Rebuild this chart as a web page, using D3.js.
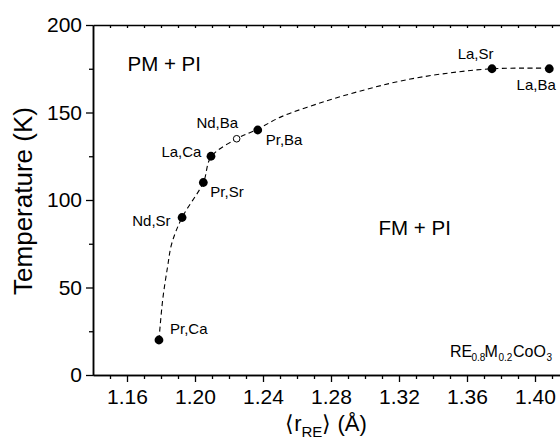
<!DOCTYPE html>
<html>
<head>
<meta charset="utf-8">
<script src="https://cdn.jsdelivr.net/npm/d3@7"></script>
<style>
  html, body { margin: 0; padding: 0; background: #fff; }
  svg { display: block; }
  text { font-family: Arial, "Liberation Sans", Helvetica, sans-serif; fill: #000; }
</style>
</head>
<body>
<svg id="chart" width="560" height="439"></svg>
<script>
// ---- data ----
const compounds = ["Pr,Ca", "Nd,Sr", "Pr,Sr", "La,Ca", "Nd,Ba", "Pr,Ba", "La,Sr", "La,Ba"];
const rRE      = [1.1788, 1.1924, 1.2049, 1.2094, 1.2245, 1.2369, 1.3747, 1.4084];
const Tc       = [20, 90, 110, 125, 135, 140, 175, 175];
const openMark = [false, false, false, false, true, false, false, false];

// dashed guide curve, read along the dashed line of the picture
const curveR = [1.1788, 1.1810, 1.1839, 1.1863, 1.1924, 1.2049, 1.2094, 1.2245, 1.2369, 1.2506, 1.277, 1.300, 1.321, 1.345, 1.3747, 1.4084];
const curveT = [20, 43, 62, 75, 90, 110, 124.5, 135, 140.5, 147.5, 156.5, 163, 168, 172, 175, 175.3];

// axis ticks
const xMajor = [1.16, 1.20, 1.24, 1.28, 1.32, 1.36, 1.40];
const xMinor = [1.15,1.17,1.18,1.19,1.21,1.22,1.23,1.25,1.26,1.27,1.29,1.30,1.31,1.33,1.34,1.35,1.37,1.38,1.39,1.41];
const yMajor = [0, 50, 100, 150, 200];
const yMinor = [25, 75, 125, 175];

// label placement (offset from point, anchor)
const labelLayout = [
  {dx: 11, dy: -6, anchor: "start"},
  {dx: -11.5, dy: 8.5, anchor: "end"},
  {dx: 7, dy: 14, anchor: "start"},
  {dx: -9.5, dy: 1, anchor: "end"},
  {dx: 1.5, dy: -11, anchor: "end"},
  {dx: 8, dy: 15, anchor: "start"},
  {dx: 1.5, dy: -9.8, anchor: "end"},
  {dx: 6.5, dy: 21.5, anchor: "end"}
];

const svg = d3.select("#chart");
const x = d3.scaleLinear().domain([1.14, 1.42]).range([93, 569]);
const y = d3.scaleLinear().domain([0, 200]).range([375, 25]);

function styleAxis(g) {
  g.selectAll(".domain").attr("stroke", "#000").attr("stroke-width", 1.5);
  g.selectAll(".tick line").attr("stroke", "#000").attr("stroke-width", 1.3);
  g.selectAll(".tick text").style("font-size", "21px").attr("fill", "#000")
    .style("font-family", "Arial, 'Liberation Sans', sans-serif");
}

// bottom axis
svg.append("g").attr("transform", "translate(0,375)")
  .call(d3.axisBottom(x).tickValues(xMinor).tickSize(4).tickSizeOuter(0).tickFormat(""))
  .call(styleAxis);
svg.append("g").attr("transform", "translate(0,375)")
  .call(d3.axisBottom(x).tickValues(xMajor).tickSize(7).tickPadding(7).tickSizeOuter(0).tickFormat(d3.format(".2f")))
  .call(styleAxis);
// top axis (inward ticks)
svg.append("g").attr("transform", "translate(0,25)")
  .call(d3.axisTop(x).tickValues(xMinor.concat(xMajor)).tickSize(-3).tickSizeOuter(0).tickFormat(""))
  .call(styleAxis);
// left axis
svg.append("g").attr("transform", "translate(93,0)")
  .call(d3.axisLeft(y).tickValues(yMinor).tickSize(4).tickSizeOuter(0).tickFormat(""))
  .call(styleAxis);
svg.append("g").attr("transform", "translate(93,0)")
  .call(d3.axisLeft(y).tickValues(yMajor).tickSize(7).tickPadding(4).tickSizeOuter(0).tickFormat(d3.format("d")))
  .call(styleAxis);
// right axis
svg.append("g").attr("transform", "translate(569,0)")
  .call(d3.axisRight(y).tickValues(yMajor.concat(yMinor)).tickSize(-3).tickSizeOuter(0).tickFormat(""))
  .call(styleAxis);

// dashed curve
const curvePts = curveR.map((r, i) => [r, curveT[i]]);
svg.append("path")
  .datum(curvePts)
  .attr("fill", "none")
  .attr("stroke", "#000")
  .attr("stroke-width", 1.1)
  .attr("stroke-dasharray", "5,3.5")
  .attr("d", d3.line().x(d => x(d[0])).y(d => y(d[1])).curve(d3.curveCatmullRom.alpha(0.5)));

// points
const pts = compounds.map((c, i) => ({c, r: rRE[i], t: Tc[i], open: openMark[i], lay: labelLayout[i]}));
svg.selectAll("circle.pt").data(pts).join("circle")
  .attr("class", "pt")
  .attr("cx", d => x(d.r))
  .attr("cy", d => y(d.t))
  .attr("r", d => d.open ? 3.3 : 4.4)
  .attr("fill", d => d.open ? "#fff" : "#000")
  .attr("stroke", "#000")
  .attr("stroke-width", d => d.open ? 1 : 0);

svg.selectAll("text.lbl").data(pts).join("text")
  .attr("class", "lbl")
  .attr("x", d => x(d.r) + d.lay.dx)
  .attr("y", d => y(d.t) + d.lay.dy)
  .attr("text-anchor", d => d.lay.anchor)
  .style("font-size", "15px")
  .text(d => d.c);

// region labels
svg.append("text").attr("x", 127.5).attr("y", 70.7).style("font-size", "20.5px").text("PM + PI");
svg.append("text").attr("x", 378.5).attr("y", 235).style("font-size", "20.5px").text("FM + PI");

// formula label
const f = svg.append("text").attr("y", 356.7).style("font-size", "16px");
f.append("tspan").attr("x", 450).text("RE");
f.append("tspan").attr("x", 471.5).attr("dy", 4).style("font-size", "10px").text("0.8");
f.append("tspan").attr("x", 484.5).attr("dy", -4).text("M");
f.append("tspan").attr("x", 498.5).attr("dy", 4).style("font-size", "10px").text("0.2");
f.append("tspan").attr("x", 513).attr("dy", -4).text("CoO");
f.append("tspan").attr("x", 546.5).attr("dy", 4).style("font-size", "10px").text("3");

// axis titles
const xt = svg.append("text").attr("x", 326).attr("y", 431).attr("text-anchor", "middle").style("font-size", "22px");
xt.append("tspan").text("\u27E8r");
xt.append("tspan").attr("dy", 6).style("font-size", "15px").text("RE");
xt.append("tspan").attr("dy", -6).text("\u27E9 (\u00C5)");

svg.append("text")
  .attr("transform", "translate(32,201) rotate(-90)")
  .attr("text-anchor", "middle")
  .style("font-size", "26px")
  .text("Temperature (K)");
</script>
</body>
</html>
